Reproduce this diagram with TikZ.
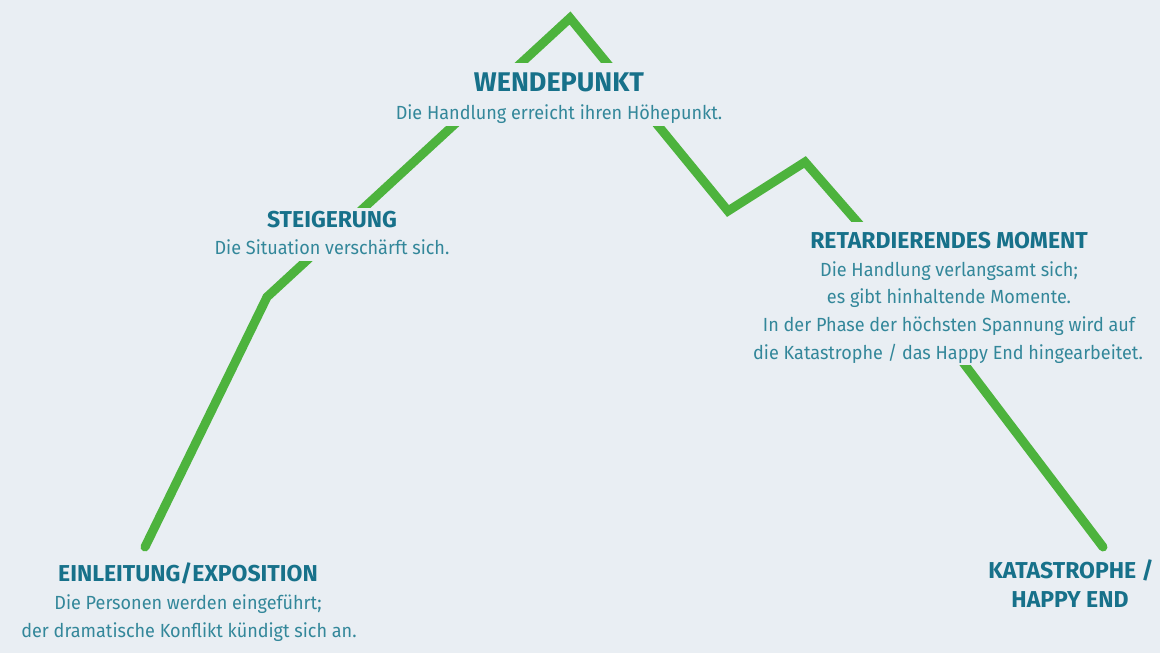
\documentclass[tikz,border=0pt]{standalone}
\usepackage{fontspec}
\setmainfont{Fira Sans}
\newfontfamily\subfont[FakeStretch=0.95]{Fira Sans}
\definecolor{bg}{HTML}{E9EEF3}
\definecolor{ttl}{HTML}{17718A}
\definecolor{sub}{HTML}{33879A}
\definecolor{lgreen}{HTML}{4DB33D}
\begin{document}
\begin{tikzpicture}[x=1pt,y=-1pt,
  ttlstyle/.style={anchor=base,text=ttl,font=\fontsize{23}{27}\selectfont\bfseries,inner sep=0pt},
  bigttl/.style={ttlstyle,font=\fontsize{27}{31}\selectfont\bfseries},
  substyle/.style={anchor=base,text=sub,font=\subfont\fontsize{19}{23}\selectfont,inner sep=0pt},
  curve/.style={draw=lgreen,line width=9pt,line cap=round,line join=miter},
  mask/.style={fill=bg}]
\fill[bg] (0,0) rectangle (1160,653);
\useasboundingbox (0,0) rectangle (1160,653);
% curve
\draw[curve] (145,547) -- (267,297) -- (570,18) -- (728,211) -- (805,162) -- (860,225) -- (965,365) -- (1103,547);
% masks behind the texts
\fill[mask] (397,63) rectangle (722,126);
\fill[mask] (212,208) rectangle (452,261);
\fill[mask] (757,222) rectangle (1140,365);
% texts
\node[bigttl] (wt) at (559,91) {WENDEPUNKT};
\node[substyle] (ws) at (559,119) {Die Handlung erreicht ihren Höhepunkt.};
\node[ttlstyle] (st) at (332,227) {STEIGERUNG};
\node[substyle] (ss) at (332,254) {Die Situation verschärft sich.};
\node[ttlstyle] (et) at (188,581) {EINLEITUNG/EXPOSITION};
\node[substyle] (es1) at (188,609) {Die Personen werden eingeführt;};
\node[substyle] (es2) at (189,637) {der dramatische Konflikt kündigt sich an.};
\node[ttlstyle] (rt) at (949,248) {RETARDIERENDES MOMENT};
\node[substyle] (rs1) at (949,276) {Die Handlung verlangsamt sich;};
\node[substyle] (rs2) at (949,303) {es gibt hinhaltende Momente.};
\node[substyle] (rs3) at (949,331) {In der Phase der höchsten Spannung wird auf};
\node[substyle] (rs4) at (948,359) {die Katastrophe / das Happy End hingearbeitet.};
\node[ttlstyle] (kt1) at (1071,578) {KATASTROPHE /};
\node[ttlstyle] (kt2) at (1070,607) {HAPPY END};
\end{tikzpicture}
\end{document}
